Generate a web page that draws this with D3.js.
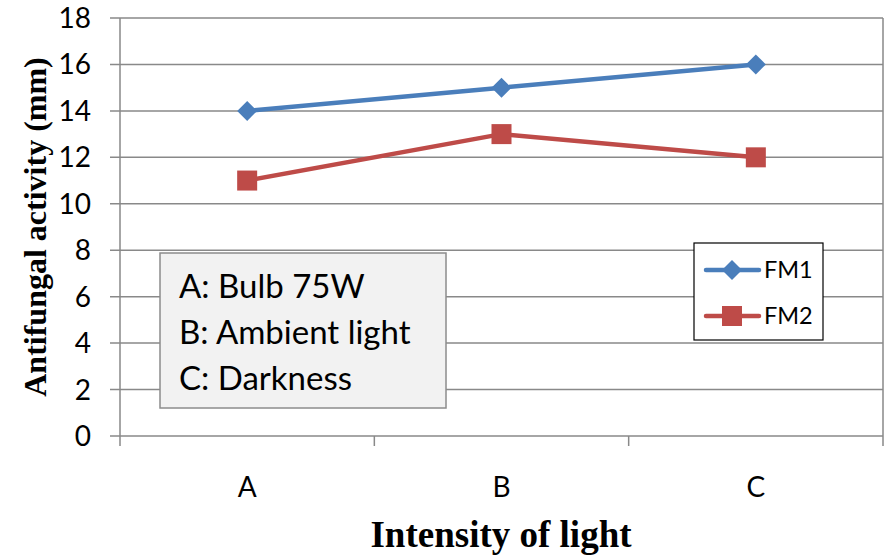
<!DOCTYPE html>
<html>
<head>
<meta charset="utf-8">
<script src="https://cdn.jsdelivr.net/npm/d3@7"></script>
<style>
  body { margin: 0; background: #fff; }
  svg { display: block; }
</style>
</head>
<body>
<svg id="chart" width="887" height="558"></svg>
<script>
var categories = ["A", "B", "C"];
var fm1 = [14, 15, 16];
var fm2 = [11, 13, 12];
var yTicks = [0, 2, 4, 6, 8, 10, 12, 14, 16, 18];
var notes = ["A: Bulb 75W", "B: Ambient light", "C: Darkness"];
var seriesNames = ["FM1", "FM2"];

var svg = d3.select("#chart");
var plotLeft = 120, plotRight = 883, plotTop = 18, plotBottom = 436;
var sans = "Lato, 'Open Sans', sans-serif";
var serif = "'Liberation Serif', 'Times New Roman', serif";
var gridColor = "#898989";

var x = d3.scaleBand().domain(categories).range([plotLeft, plotRight]);
var y = d3.scaleLinear().domain([0, 18]).range([plotBottom, plotTop]);

// gridlines
svg.append("g").selectAll("line").data(yTicks).enter().append("line")
	.attr("x1", plotLeft - 10).attr("x2", plotRight)
	.attr("y1", function(d){ return y(d); }).attr("y2", function(d){ return y(d); })
	.attr("stroke", gridColor).attr("stroke-width", 1.5);

// axis lines
svg.append("line").attr("x1", plotLeft).attr("x2", plotLeft).attr("y1", plotTop).attr("y2", plotBottom + 10)
	.attr("stroke", gridColor).attr("stroke-width", 1.5);
svg.append("line").attr("x1", plotRight).attr("x2", plotRight).attr("y1", plotTop).attr("y2", plotBottom + 10)
	.attr("stroke", gridColor).attr("stroke-width", 1.5);
// category separator ticks
svg.append("g").selectAll("line").data(categories.slice(1)).enter().append("line")
	.attr("x1", function(d){ return x(d); }).attr("x2", function(d){ return x(d); })
	.attr("y1", plotBottom).attr("y2", plotBottom + 10)
	.attr("stroke", gridColor).attr("stroke-width", 1.5);

// y tick labels
svg.append("g").selectAll("text").data(yTicks).enter().append("text")
	.attr("x", 91).attr("y", function(d){ return y(d) + 10; })
	.attr("text-anchor", "end")
	.style("font-family", sans).style("font-size", "28px")
	.text(function(d){ return d; });

// x tick labels
svg.append("g").selectAll("text").data(categories).enter().append("text")
	.attr("x", function(d){ return x(d) + x.bandwidth() / 2; }).attr("y", 497)
	.attr("text-anchor", "middle")
	.style("font-family", sans).style("font-size", "28px")
	.text(function(d){ return d; });

// axis titles
svg.append("text")
	.attr("transform", "translate(46,227) rotate(-90)")
	.attr("text-anchor", "middle")
	.style("font-family", serif)
	.style("font-weight", "bold").style("font-size", "32px")
	.text("Antifungal activity (mm)");
svg.append("text")
	.attr("x", 501).attr("y", 547)
	.attr("text-anchor", "middle")
	.style("font-family", serif)
	.style("font-weight", "bold").style("font-size", "37px")
	.text("Intensity of light");

// note box
var note = svg.append("g");
note.append("rect").attr("x", 160).attr("y", 253).attr("width", 286).attr("height", 155)
	.attr("fill", "#f2f2f2").attr("stroke", "#8c8c8c").attr("stroke-width", 1.5);
note.selectAll("text").data(notes).enter().append("text")
	.attr("x", 179).attr("y", function(d, i){ return 298 + i * 46; })
	.style("font-family", sans).style("font-size", "33px")
	.text(function(d){ return d; });

// series
var colors = ["#4a7ebb", "#be4b48"];
var line = d3.line()
	.x(function(d, i){ return x(categories[i]) + x.bandwidth() / 2; })
	.y(function(d){ return y(d); });

function marker(sel, idx, cx, cy) {
	if (idx === 0) {
		sel.append("path")
			.attr("d", "M" + cx + "," + (cy - 10) + "L" + (cx + 10) + "," + cy + "L" + cx + "," + (cy + 10) + "L" + (cx - 10) + "," + cy + "Z")
			.attr("fill", colors[0]);
	} else {
		sel.append("rect").attr("x", cx - 10).attr("y", cy - 10).attr("width", 20).attr("height", 20)
			.attr("fill", colors[1]);
	}
}

[fm1, fm2].forEach(function(vals, idx){
	var g = svg.append("g");
	g.append("path").attr("d", line(vals)).attr("fill", "none")
		.attr("stroke", colors[idx]).attr("stroke-width", 4.5).attr("stroke-linejoin", "round");
	vals.forEach(function(v, i){
		marker(g, idx, x(categories[i]) + x.bandwidth() / 2, y(v));
	});
});

// legend
var leg = svg.append("g");
leg.append("rect").attr("x", 694).attr("y", 243).attr("width", 129).attr("height", 97)
	.attr("fill", "#fff").attr("stroke", "#000").attr("stroke-width", 1.2);
seriesNames.forEach(function(name, i){
	var ly = 270 + i * 46;
	leg.append("line").attr("x1", 706).attr("x2", 759).attr("y1", ly).attr("y2", ly)
		.attr("stroke", colors[i]).attr("stroke-width", 4.5).attr("stroke-linecap", "round");
	marker(leg, i, 732, ly);
	leg.append("text").attr("x", 764).attr("y", ly + 8)
		.style("font-family", sans).style("font-size", "23.5px")
		.text(name);
});
</script>
</body>
</html>
